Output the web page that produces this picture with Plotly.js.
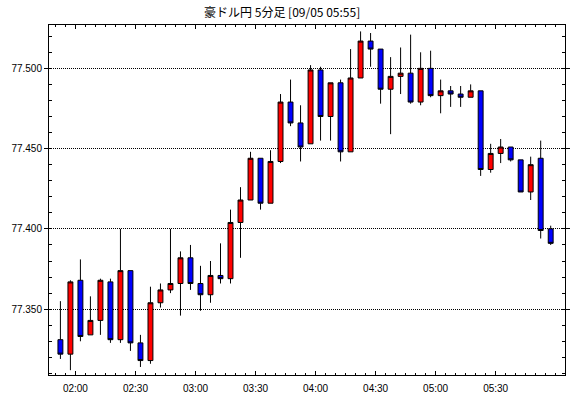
<!DOCTYPE html>
<html>
<head>
<meta charset="utf-8">
<script src="https://cdn.plot.ly/plotly-3.0.1.min.js"></script>
<style>
html,body{margin:0;padding:0;background:#fff;}
#chart{width:570px;height:398px;}
</style>
</head>
<body>
<div id="chart"></div>
<script>
var times = ["01:50","01:55","02:00","02:05","02:10","02:15","02:20","02:25","02:30","02:35",
             "02:40","02:45","02:50","02:55","03:00","03:05","03:10","03:15","03:20","03:25",
             "03:30","03:35","03:40","03:45","03:50","03:55","04:00","04:05","04:10","04:15",
             "04:20","04:25","04:30","04:35","04:40","04:45","04:50","04:55","05:00","05:05",
             "05:10","05:15","05:20","05:25","05:30","05:35","05:40","05:45","05:50","05:55"];
var open  = [77.331,77.322,77.368,77.334,77.343,77.367,77.331,77.374,77.329,77.318,
             77.354,77.362,77.366,77.382,77.366,77.359,77.371,77.369,77.404,77.418,
             77.444,77.416,77.442,77.479,77.466,77.453,77.499,77.470,77.491,77.448,
             77.494,77.517,77.512,77.487,77.495,77.497,77.479,77.500,77.483,77.486,
             77.484,77.482,77.486,77.437,77.447,77.451,77.443,77.423,77.444,77.400];
var high  = [77.355,77.368,77.381,77.358,77.369,77.369,77.400,77.374,77.334,77.364,
             77.366,77.400,77.386,77.390,77.377,77.380,77.391,77.412,77.426,77.448,
             77.444,77.449,77.484,77.493,77.477,77.502,77.501,77.491,77.493,77.512,
             77.523,77.522,77.512,77.507,77.513,77.521,77.510,77.511,77.493,77.489,
             77.489,77.490,77.486,77.453,77.456,77.451,77.443,77.445,77.455,77.402];
var low   = [77.319,77.312,77.330,77.334,77.334,77.329,77.329,77.324,77.314,77.316,
             77.351,77.360,77.346,77.362,77.349,77.354,77.366,77.366,77.382,77.418,
             77.412,77.416,77.441,77.464,77.442,77.453,77.455,77.455,77.442,77.448,
             77.494,77.501,77.478,77.459,77.484,77.478,77.477,77.482,77.472,77.476,
             77.476,77.482,77.433,77.435,77.441,77.442,77.423,77.418,77.394,77.390];
var close = [77.322,77.367,77.333,77.343,77.368,77.331,77.374,77.329,77.318,77.354,
             77.362,77.366,77.382,77.366,77.359,77.371,77.369,77.404,77.418,77.444,
             77.416,77.442,77.479,77.466,77.451,77.499,77.470,77.491,77.448,77.494,
             77.517,77.512,77.487,77.495,77.497,77.479,77.500,77.483,77.486,77.484,
             77.482,77.486,77.437,77.447,77.451,77.443,77.423,77.440,77.399,77.391];
var tickLabels = ["02:00","02:30","03:00","03:30","04:00","04:30","05:00","05:30"];
var yTicks = [77.350, 77.400, 77.450, 77.500];

var xs = times.map(function(t, i){ return i; });
var xTickVals = tickLabels.map(function(l){ return times.indexOf(l) - 0.5; });

var trace = {
  type: 'candlestick',
  x: xs, open: open, high: high, low: low, close: close,
  increasing: {line: {color: '#000000', width: 1}, fillcolor: '#ff0000'},
  decreasing: {line: {color: '#000000', width: 1}, fillcolor: '#0000ff'},
  whiskerwidth: 0,
  hoverinfo: 'none',
  showlegend: false
};

var layout = {
  width: 570, height: 398,
  margin: {l: 49, r: 5, t: 25, b: 23, pad: 0},
  paper_bgcolor: '#ffffff',
  plot_bgcolor: '#ffffff',
  showlegend: false,
  title: {
    text: '豪ドル円 5分足 [09/05 05:55]',
    font: {family: 'Noto Sans CJK JP, Liberation Sans, sans-serif', size: 12, color: '#000'},
    xref: 'container', x: 0.495, xanchor: 'center',
    yref: 'container', y: 1 - 13/398, yanchor: 'middle'
  },
  xaxis: {
    range: [-1.14, 50.43],
    rangeslider: {visible: false},
    tickmode: 'array',
    tickvals: xTickVals,
    ticktext: tickLabels,
    ticks: 'inside', ticklen: 4, tickwidth: 1, tickcolor: '#000',
    ticklabelstandoff: 4,
    minor: {tickmode: 'linear', tick0: 0.5, dtick: 1, ticks: 'inside', ticklen: 2, tickcolor: '#000', showgrid: false},
    showgrid: false, zeroline: false,
    showline: true, linecolor: '#000', linewidth: 1, mirror: 'allticks',
    tickfont: {family: 'Liberation Sans, Arial, sans-serif', size: 10, color: '#000'},
    fixedrange: true
  },
  yaxis: {
    range: [77.309, 77.527],
    tickmode: 'array',
    tickvals: yTicks,
    ticktext: yTicks.map(function(v){ return v.toFixed(3); }),
    ticks: 'outside', ticklen: 4, tickwidth: 1, tickcolor: '#000',
    minor: {tickmode: 'linear', tick0: 77.30, dtick: 0.01, ticks: 'inside', ticklen: 3, tickcolor: '#000', showgrid: false},
    showgrid: true, gridcolor: '#000', gridwidth: 1, griddash: '1px,1px',
    zeroline: false,
    showline: true, linecolor: '#000', linewidth: 1, mirror: 'allticks',
    tickfont: {family: 'Liberation Sans, Arial, sans-serif', size: 10, color: '#000'},
    fixedrange: true
  }
};

Plotly.newPlot('chart', [trace], layout, {staticPlot: true, displayModeBar: false});
</script>
</body>
</html>
